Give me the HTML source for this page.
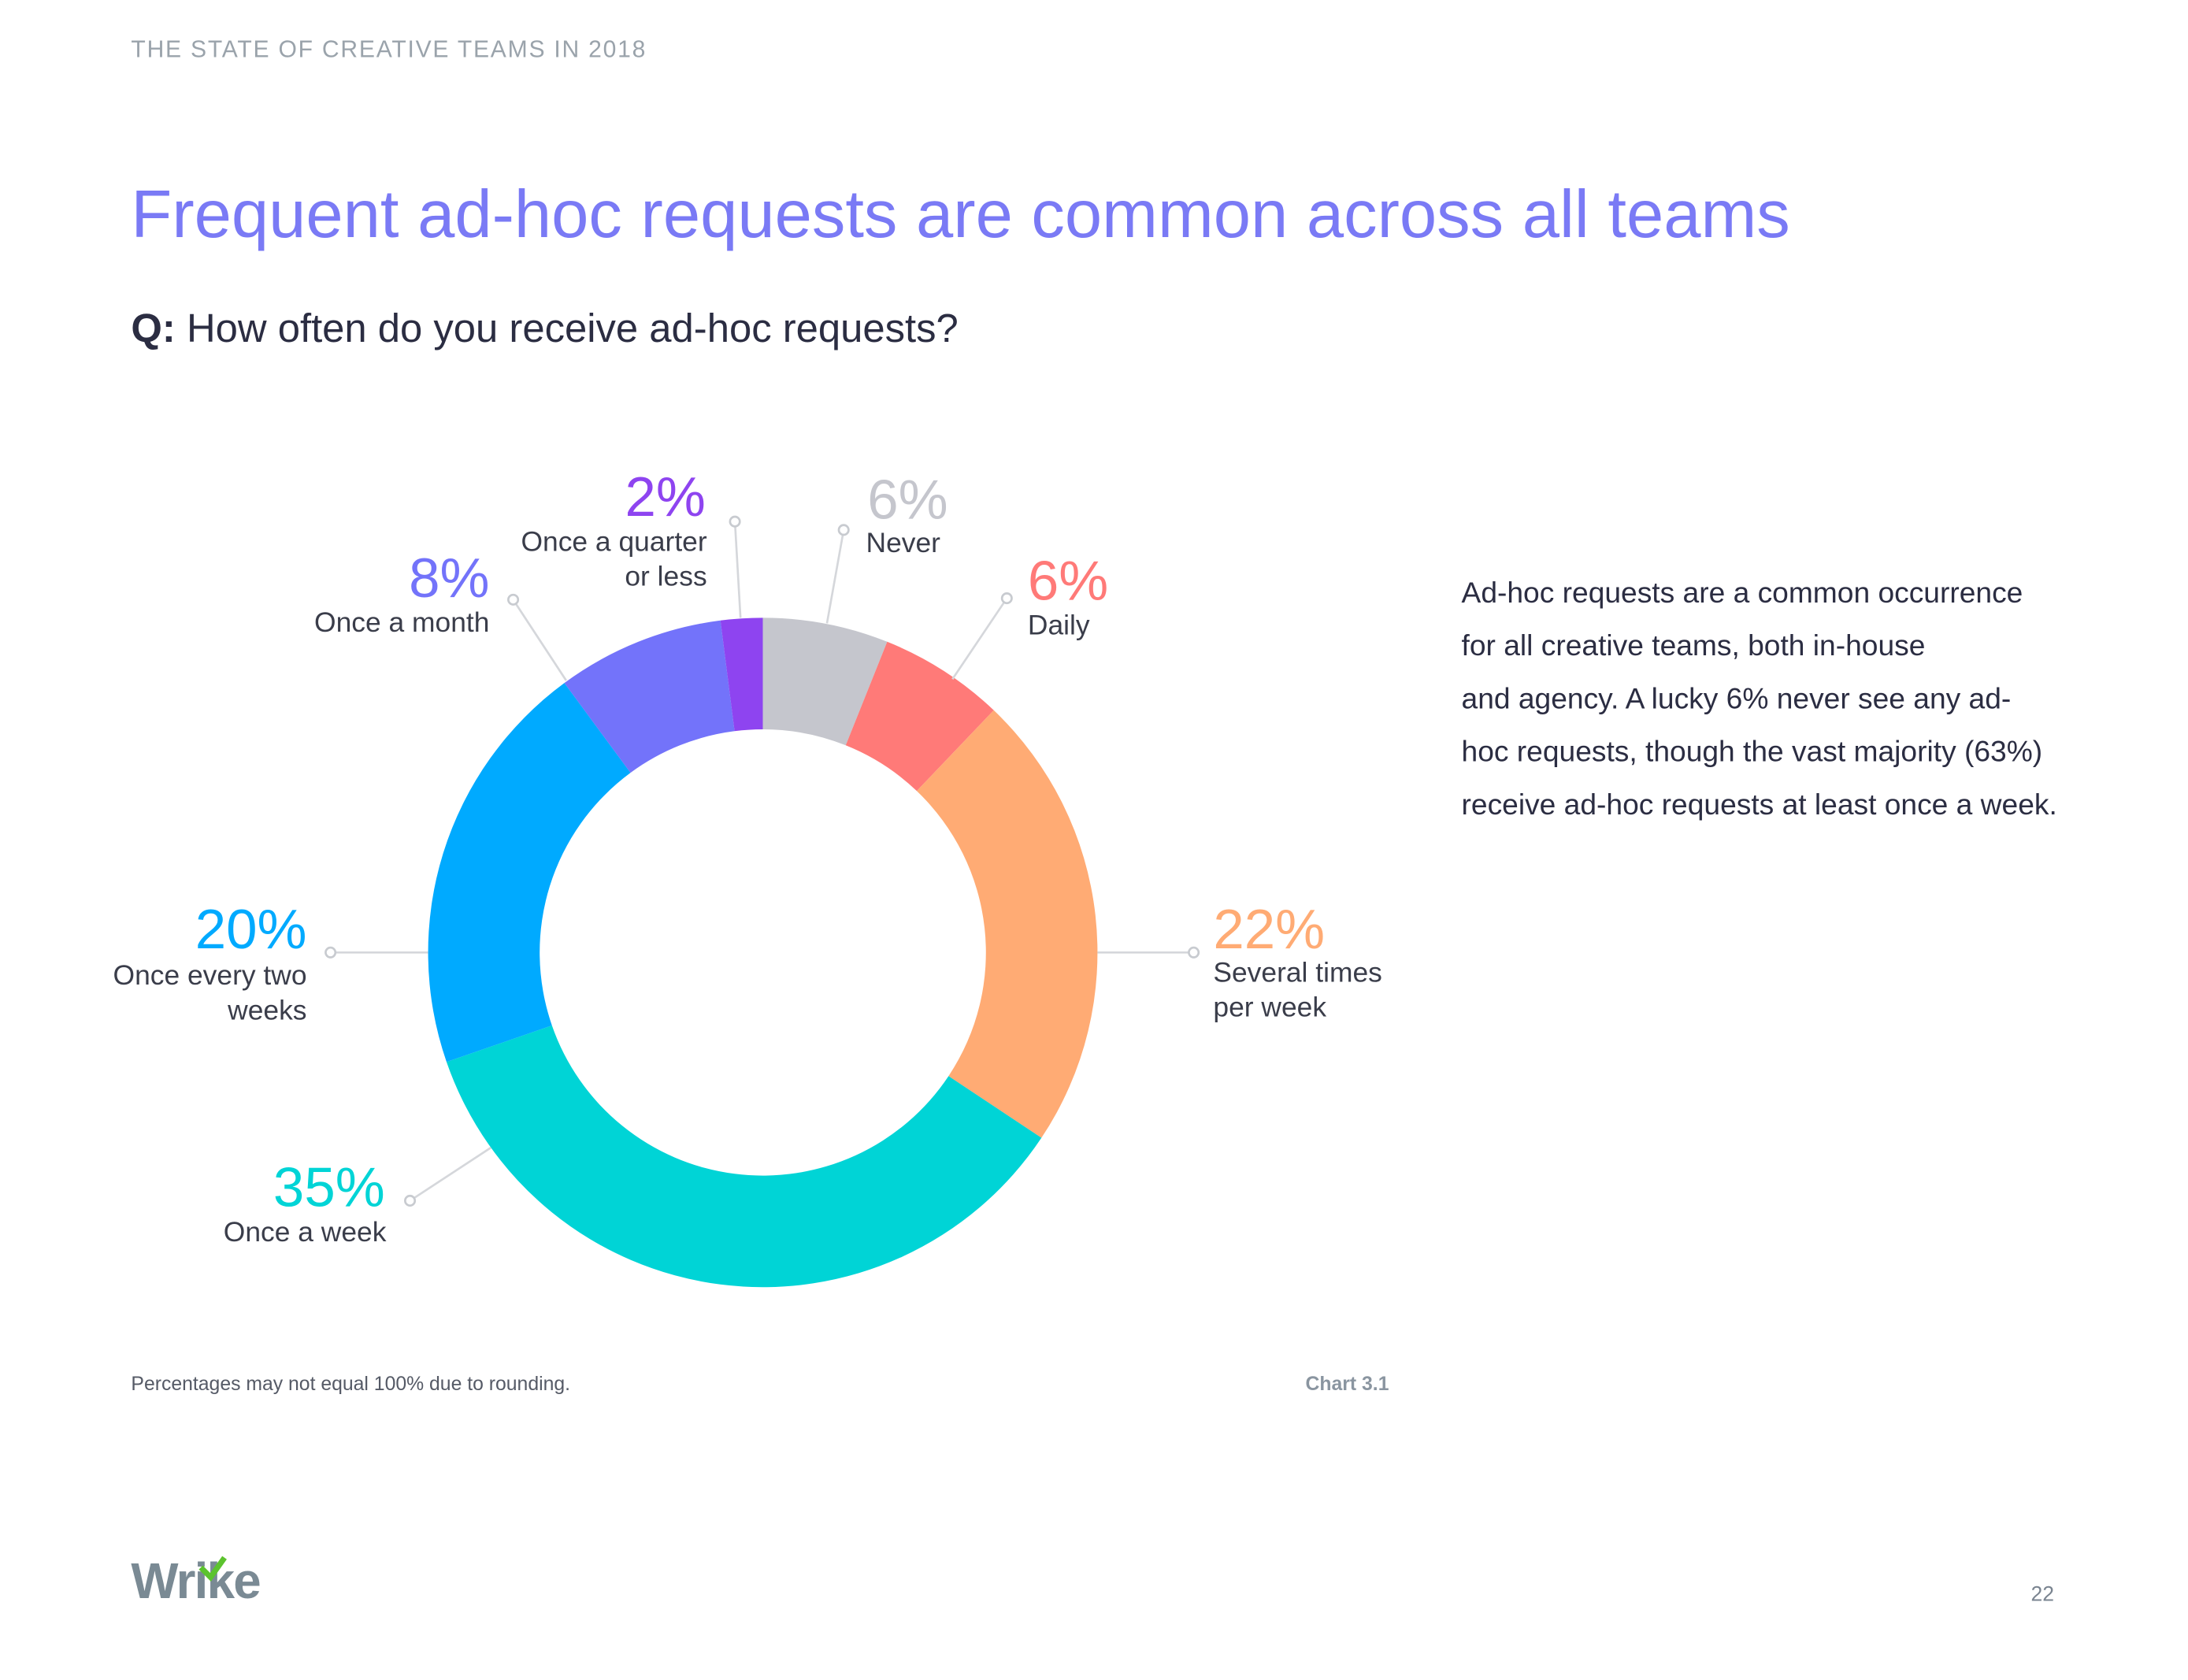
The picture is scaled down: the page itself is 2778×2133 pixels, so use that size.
<!DOCTYPE html>
<html><head><meta charset="utf-8">
<style>
html,body{margin:0;padding:0;background:#fff;}
svg{display:block;font-family:"Liberation Sans",sans-serif;}
</style></head>
<body>
<svg id="chart" width="2778" height="2133" viewBox="0 0 1569 1204.7" xmlns="http://www.w3.org/2000/svg">
<text x="94" y="41" font-size="17" fill="#9aa3ab" letter-spacing="1">THE STATE OF CREATIVE TEAMS IN 2018</text>
<text x="94" y="170" font-size="48" fill="#7a7af5">Frequent ad-hoc requests are common across all teams</text>
<text x="94" y="245" font-size="28.7" fill="#2b2d42"><tspan font-weight="bold">Q:</tspan> How often do you receive ad-hoc requests?</text>
<g id="donut"></g>
<g id="labels" font-size="20" fill="#3a3d4a">
</g>
<g font-size="21" fill="#2b2d42">
<text x="1048" y="432">Ad-hoc requests are a common occurrence</text>
<text x="1048" y="470">for all creative teams, both in-house</text>
<text x="1048" y="508">and agency. A lucky 6% never see any ad-</text>
<text x="1048" y="546">hoc requests, though the vast majority (63%)</text>
<text x="1048" y="584">receive ad-hoc requests at least once a week.</text>
</g>
<text x="94" y="997" font-size="14" fill="#555a66">Percentages may not equal 100% due to rounding.</text>
<text x="996" y="997" font-size="14" font-weight="bold" fill="#8a95a0" text-anchor="end">Chart 3.1</text>
<g>
<text x="94" y="1146" font-size="36" font-weight="bold" fill="#7a8a94" letter-spacing="-1">Wrike</text>
<path d="M144 1124 L151 1131 L161 1117" stroke="#5cc32e" stroke-width="4" fill="none"/>
</g>
<text x="1473" y="1148" font-size="15" fill="#7a8490" text-anchor="end">22</text>
</svg>
<script>
const categories=["Never","Daily","Several times per week","Once a week","Once every two weeks","Once a month","Once a quarter or less"];
const values=[6,6,22,35,20,8,2];
const colors=["#c5c6cd","#ff7a78","#ffab74","#00d4d6","#00aaff","#7373fa","#8e44f0"];
const cx=547,cy=683,R=240,r=160;
const NS="http://www.w3.org/2000/svg";
const total=values.reduce((a,b)=>a+b,0);
function pt(a,rad){return [cx+rad*Math.sin(a),cy-rad*Math.cos(a)];}
const g=document.getElementById('donut');
let acc=0;
values.forEach((v,i)=>{
  const a0=acc/total*2*Math.PI; acc+=v; const a1=acc/total*2*Math.PI;
  const large=(a1-a0)>Math.PI?1:0;
  const p0=pt(a0,R),p1=pt(a1,R),q1=pt(a1,r),q0=pt(a0,r);
  const p=document.createElementNS(NS,'path');
  p.setAttribute('d',`M${p0} A${R} ${R} 0 ${large} 1 ${p1} L${q1} A${r} ${r} 0 ${large} 0 ${q0}Z`);
  p.setAttribute('fill',colors[i]);
  
  
  g.appendChild(p);
});
const L=[
 {line:[593,447,605,380],pct:[622,372,'start'],lab:[["Never",621,396]]},
 {line:[683,487,722,429],pct:[737,430,'start'],lab:[["Daily",737,455]]},
 {line:[787,683,856,683],pct:[870,680,'start'],lab:[["Several times",870,704],["per week",870,729]]},
 {line:[352,823,294,861],pct:[276,865,'end'],lab:[["Once a week",277,890]]},
 {line:[307,683,237,683],pct:[220,680,'end'],lab:[["Once every two",220,706],["weeks",220,731]]},
 {line:[406,488,368,430],pct:[351,428,'end'],lab:[["Once a month",351,453]]},
 {line:[531,443,527,374],pct:[506,370,'end'],lab:[["Once a quarter",507,395],["or less",507,420]]}
];
const lg=document.getElementById('labels');
L.forEach((o,i)=>{
  const ln=document.createElementNS(NS,'line');
  ln.setAttribute('x1',o.line[0]);ln.setAttribute('y1',o.line[1]);ln.setAttribute('x2',o.line[2]);ln.setAttribute('y2',o.line[3]);
  ln.setAttribute('stroke','#d5d7db');ln.setAttribute('stroke-width','1.5');
  
  
  lg.appendChild(ln);
  const c=document.createElementNS(NS,'circle');
  c.setAttribute('cx',o.line[2]);c.setAttribute('cy',o.line[3]);c.setAttribute('r','3.5');
  c.setAttribute('fill','#fff');c.setAttribute('stroke','#c8cbd0');c.setAttribute('stroke-width','1.5');
  
  
  lg.appendChild(c);
  const t=document.createElementNS(NS,'text');
  t.setAttribute('x',o.pct[0]);t.setAttribute('y',o.pct[1]);t.setAttribute('text-anchor',o.pct[2]);
  t.setAttribute('font-size','40');t.setAttribute('fill',colors[i]);
  t.textContent=values[i]+'%';
  
  
  lg.appendChild(t);
  o.lab.forEach(s=>{
    const tt=document.createElementNS(NS,'text');
    tt.setAttribute('x',s[1]);tt.setAttribute('y',s[2]);tt.setAttribute('text-anchor',o.pct[2]);
    tt.textContent=s[0];
    
    
    lg.appendChild(tt);
  });
});
</script>
</body></html>
